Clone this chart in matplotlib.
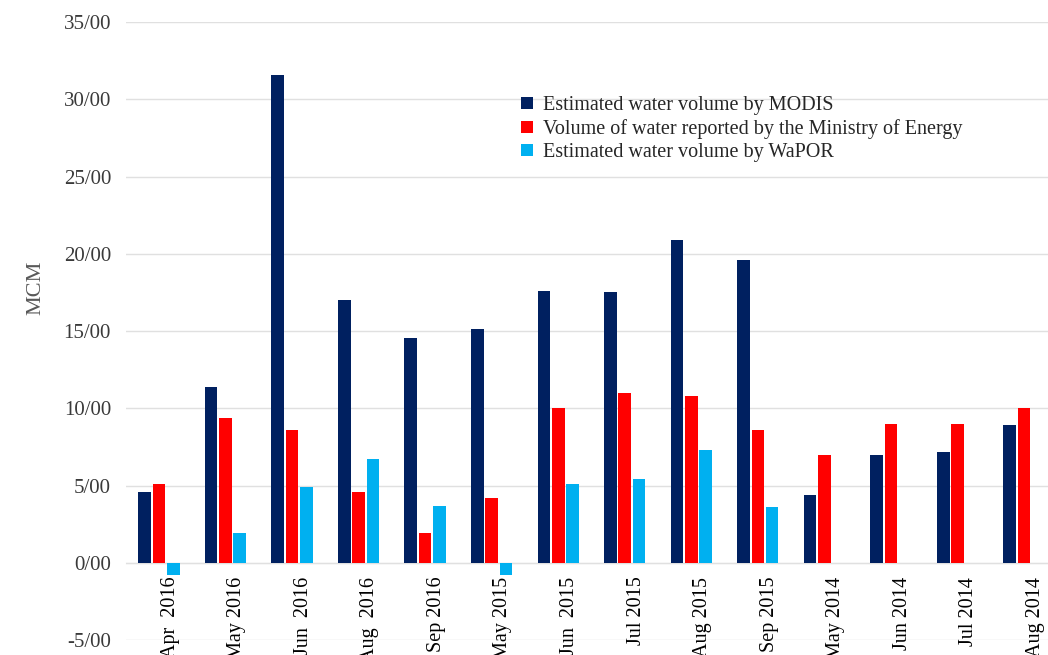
import numpy as np
import matplotlib
matplotlib.use('Agg')
import matplotlib.pyplot as plt

plt.rcParams['font.family'] = ['Liberation Serif', 'DejaVu Serif']

months = ['Apr  2016', 'May 2016', 'Jun  2016', 'Aug  2016', 'Sep 2016',
          'May 2015', 'Jun  2015', 'Jul 2015', 'Aug 2015', 'Sep 2015',
          'May 2014', 'Jun 2014', 'Jul 2014', 'Aug 2014']

modis = [4.6, 11.4, 31.6, 17.0, 14.55, 15.1, 17.6, 17.55, 20.9, 19.6,
         4.4, 7.0, 7.2, 8.9]
ministry = [5.1, 9.4, 8.6, 4.6, 1.9, 4.2, 10.0, 11.0, 10.8, 8.6,
            7.0, 9.0, 9.0, 10.0]
wapor = [-0.8, 1.9, 4.9, 6.7, 3.7, -0.8, 5.1, 5.4, 7.3, 3.6,
         0, 0, 0, 0]

labels = ['Estimated water volume by MODIS',
          'Volume of water reported by the Ministry of Energy',
          'Estimated water volume by WaPOR']
color = ['#002060', '#FF0000', '#00B0F0']

fig = plt.figure(figsize=(10.48, 6.55), dpi=100)
ax = fig.add_axes([0.1205, 0.0229, 0.8795, 0.9435])

ind = np.arange(len(months))
width = 0.19
off = 0.215

p1 = ax.bar(ind - off, modis, width, color=color[0], zorder=3)
p2 = ax.bar(ind, ministry, width, color=color[1], zorder=3)
p3 = ax.bar(ind + off, wapor, width, color=color[2], zorder=3)

ax.set_ylim(-5, 35)
ax.set_xlim(-0.49, 13.36)
ax.set_yticks(np.arange(-5, 36, 5))
ax.set_yticklabels(['%d/00' % v for v in np.arange(-5, 36, 5)],
                   fontsize=15, color='#3a3a3a')
ax.yaxis.grid(True, color='#E0E0E0', linewidth=1, zorder=0)

# category axis sits on zero like in excel
ax.spines['bottom'].set_position(('data', 0))
ax.spines['bottom'].set_color('#E0E0E0')
for s in ['top', 'right', 'left']:
    ax.spines[s].set_visible(False)
ax.set_xticks(ind + 0.17)
ax.set_xticklabels(months, rotation=90, fontsize=14.5, color='black')
ax.tick_params(axis='x', length=0, pad=10)
ax.tick_params(axis='y', length=0, pad=11)

ax.set_ylabel('MCM', fontsize=16, color='#595959')
ax.yaxis.set_label_coords(-0.088, 0.57)

ax.legend((p1[0], p2[0], p3[0]), labels, loc='upper left',
          bbox_to_anchor=(511 / 1048, 1 - 86 / 655),
          bbox_transform=fig.transFigure, frameon=False, fontsize=14.5,
          handlelength=0.6, handleheight=0.6, handletextpad=0.5,
          labelspacing=0.2, borderpad=0, labelcolor='#262626')

plt.savefig('out.png', dpi=100)
